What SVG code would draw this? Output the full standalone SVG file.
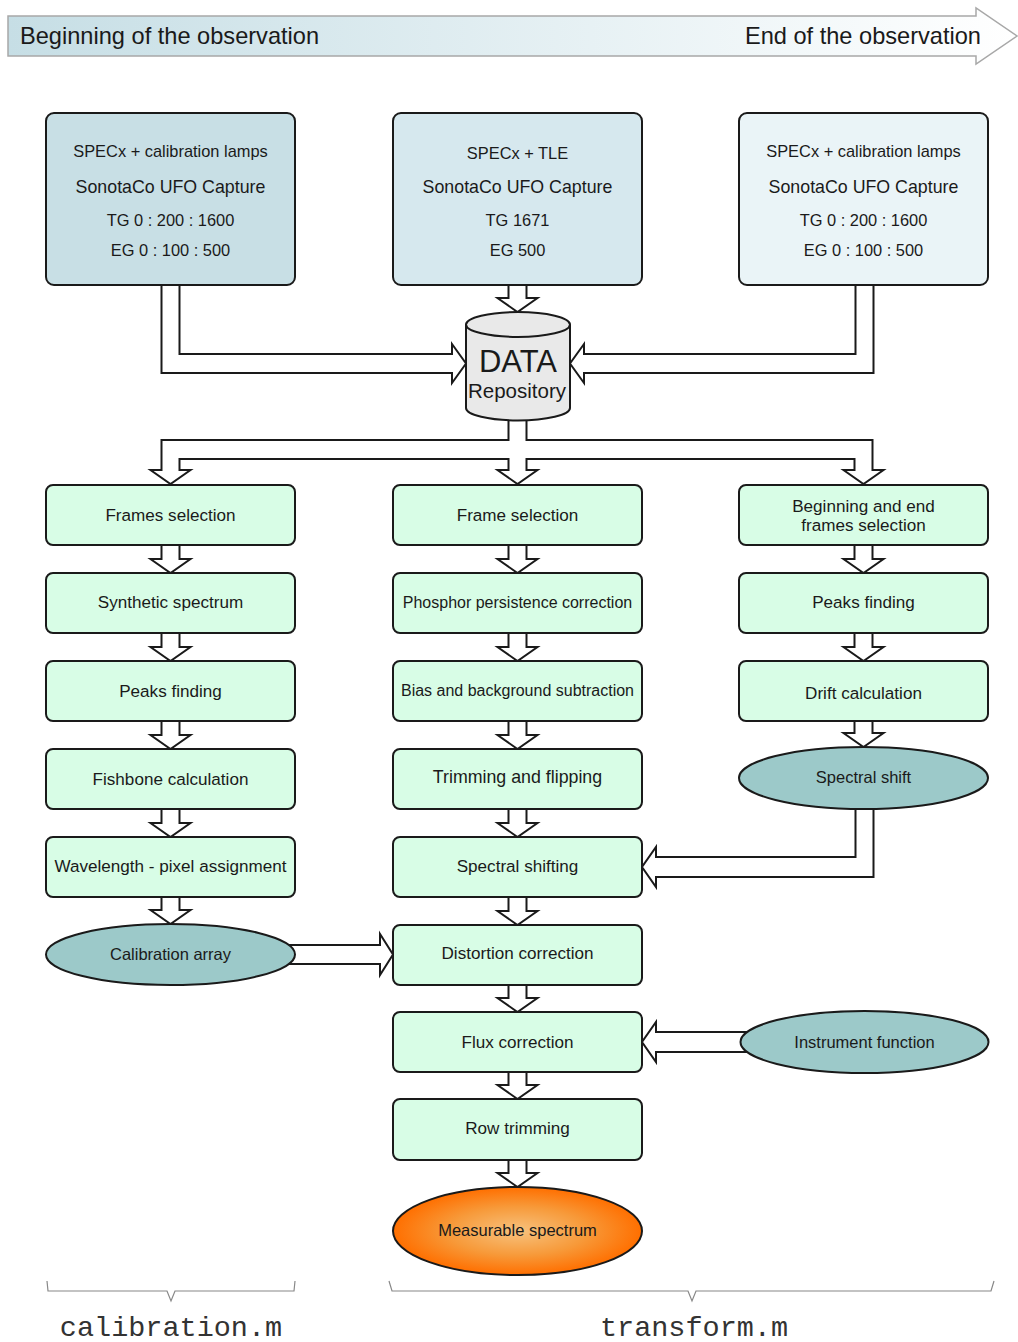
<svg xmlns="http://www.w3.org/2000/svg" width="1018" height="1342" viewBox="0 0 1018 1342">
<style>
text{font-family:"Liberation Sans",Arial,sans-serif;fill:#1a1a1a;text-anchor:middle}
.box{stroke:#1a1a1a;stroke-width:2}
.flow{fill:#d8fde6}
.ell{fill:#9cc9c9;stroke:#1a1a1a;stroke-width:2}
.conn path{fill:#fff;stroke:#1a1a1a;stroke-width:2;stroke-linejoin:miter}
.t16{font-size:16.4px}
.f{font-size:17.1px}
.t15{font-size:16px}
.e{font-size:16.5px}
.t17{font-size:17.8px}
.brace{fill:none;stroke:#888;stroke-width:1.2}
.mono{font-family:"Liberation Mono","Courier New",monospace;font-size:28.5px;fill:#333}
</style>
<defs>
<linearGradient id="ban" x1="0" y1="0" x2="1" y2="0">
<stop offset="0" stop-color="#c6dee5"/>
<stop offset="1" stop-color="#ffffff"/>
</linearGradient>
<radialGradient id="org" cx="0.5" cy="0.5" r="0.5">
<stop offset="0" stop-color="#f7c27e"/>
<stop offset="0.55" stop-color="#f79a3a"/>
<stop offset="1" stop-color="#ff6f00"/>
</radialGradient>
</defs>
<g id="timeline">
<path d="M8,16 H976 V8 L1017,36 L976,64 V56 H8 Z" fill="url(#ban)" stroke="#a8a8a8" stroke-width="1.5"/>
<text x="20" y="44" style="text-anchor:start;font-size:23.6px">Beginning of the observation</text>
<text x="981" y="44" style="text-anchor:end;font-size:23.6px">End of the observation</text>
</g>
<g id="connectors" class="conn">
<path d="M508.5,285 V298 H497.5 L517.5,312 L537.5,298 H526.5 V285"/>
<path d="M161.5,285 V373 H452 V383 L466,363.5 L452,344 V354 H179.5 V285"/>
<path d="M873.5,285 V373 H584 V383 L570,363.5 L584,344 V354 H855.5 V285"/>
<path d="M508.5,421 V440 H161.5 V470 H150.5 L170.5,484 L190.5,470 H179.5 V459 H508.5 V470 H497.5 L517.5,484 L537.5,470 H526.5 V459 H854.5 V470 H843.5 L863.5,484 L883.5,470 H872.5 V440 H526.5 V421"/>
<path d="M161.5,545 V559 H150.5 L170.5,573 L190.5,559 H179.5 V545"/>
<path d="M161.5,633 V647 H150.5 L170.5,661 L190.5,647 H179.5 V633"/>
<path d="M161.5,721 V735 H150.5 L170.5,749 L190.5,735 H179.5 V721"/>
<path d="M161.5,809 V823 H150.5 L170.5,837 L190.5,823 H179.5 V809"/>
<path d="M161.5,897 V910 H150.5 L170.5,924 L190.5,910 H179.5 V897"/>
<path d="M508.5,545 V559 H497.5 L517.5,573 L537.5,559 H526.5 V545"/>
<path d="M508.5,633 V647 H497.5 L517.5,661 L537.5,647 H526.5 V633"/>
<path d="M508.5,721 V735 H497.5 L517.5,749 L537.5,735 H526.5 V721"/>
<path d="M508.5,809 V823 H497.5 L517.5,837 L537.5,823 H526.5 V809"/>
<path d="M508.5,897 V911 H497.5 L517.5,925 L537.5,911 H526.5 V897"/>
<path d="M508.5,985 V998 H497.5 L517.5,1012 L537.5,998 H526.5 V985"/>
<path d="M508.5,1072 V1085 H497.5 L517.5,1099 L537.5,1085 H526.5 V1072"/>
<path d="M508.5,1160 V1173 H497.5 L517.5,1187 L537.5,1173 H526.5 V1160"/>
<path d="M854.5,545 V559 H843.5 L863.5,573 L883.5,559 H872.5 V545"/>
<path d="M854.5,633 V647 H843.5 L863.5,661 L883.5,647 H872.5 V633"/>
<path d="M854.5,721 V733 H843.5 L863.5,747 L883.5,733 H872.5 V721"/>
<path d="M855.5,800 V857 H656 V847 L642,867 L656,887 V877 H873.5 V800"/>
<path d="M280,945 H380 V934 L393,954.5 L380,975 V964 H280 Z"/>
<path d="M760,1032 H656 V1022 L642,1042 L656,1062 V1052 H760 Z"/>
</g>
<g id="src-left">
<rect class="box" x="46" y="113" width="249" height="172" rx="8" fill="#c8dfe5"/>
<text class="t16" x="170.5" y="157">SPECx + calibration lamps</text>
<text class="t17" x="170.5" y="193">SonotaCo UFO Capture</text>
<text class="t16" x="170.5" y="226">TG 0 : 200 : 1600</text>
<text class="t16" x="170.5" y="256">EG 0 : 100 : 500</text>
</g>
<g id="src-mid">
<rect class="box" x="393" y="113" width="249" height="172" rx="8" fill="#d6e8ee"/>
<text class="t16" x="517.5" y="159">SPECx + TLE</text>
<text class="t17" x="517.5" y="193">SonotaCo UFO Capture</text>
<text class="t16" x="517.5" y="226">TG 1671</text>
<text class="t16" x="517.5" y="256">EG 500</text>
</g>
<g id="src-right">
<rect class="box" x="739" y="113" width="249" height="172" rx="8" fill="#eaf4f7"/>
<text class="t16" x="863.5" y="157">SPECx + calibration lamps</text>
<text class="t17" x="863.5" y="193">SonotaCo UFO Capture</text>
<text class="t16" x="863.5" y="226">TG 0 : 200 : 1600</text>
<text class="t16" x="863.5" y="256">EG 0 : 100 : 500</text>
</g>
<g id="data-repository">
<path d="M466,324.5 V408 A52,12.5 0 0 0 570,408 V324.5" fill="#e9e9e9" stroke="#1a1a1a" stroke-width="2"/>
<ellipse cx="518" cy="324.5" rx="52" ry="12.5" fill="#e9e9e9" stroke="#1a1a1a" stroke-width="2"/>
<text x="518" y="372" style="font-size:31px">DATA</text>
<text x="517" y="398" style="font-size:20.5px">Repository</text>
</g>
<g id="l1"><rect class="box flow" x="46" y="485" width="249" height="60" rx="7"/><text class="f" x="170.5" y="521">Frames selection</text></g>
<g id="l2"><rect class="box flow" x="46" y="573" width="249" height="60" rx="7"/><text class="f" x="170.5" y="608">Synthetic spectrum</text></g>
<g id="l3"><rect class="box flow" x="46" y="661" width="249" height="60" rx="7"/><text class="f" x="170.5" y="697">Peaks finding</text></g>
<g id="l4"><rect class="box flow" x="46" y="749" width="249" height="60" rx="7"/><text class="f" x="170.5" y="785">Fishbone calculation</text></g>
<g id="l5"><rect class="box flow" x="46" y="837" width="249" height="60" rx="7"/><text class="f" x="170.5" y="872">Wavelength - pixel assignment</text></g>
<g id="l6"><ellipse class="ell" cx="170.5" cy="954.5" rx="124.5" ry="30.5"/><text class="e" x="170.5" y="960">Calibration array</text></g>
<g id="m1"><rect class="box flow" x="393" y="485" width="249" height="60" rx="7"/><text class="f" x="517.5" y="521">Frame selection</text></g>
<g id="m2"><rect class="box flow" x="393" y="573" width="249" height="60" rx="7"/><text class="t15" x="517.5" y="608">Phosphor persistence correction</text></g>
<g id="m3"><rect class="box flow" x="393" y="661" width="249" height="60" rx="7"/><text class="t15" x="517.5" y="696">Bias and background subtraction</text></g>
<g id="m4"><rect class="box flow" x="393" y="749" width="249" height="60" rx="7"/><text x="517.5" y="783" style="font-size:17.8px">Trimming and flipping</text></g>
<g id="m5"><rect class="box flow" x="393" y="837" width="249" height="60" rx="7"/><text class="f" x="517.5" y="872">Spectral shifting</text></g>
<g id="m6"><rect class="box flow" x="393" y="925" width="249" height="60" rx="7"/><text class="f" x="517.5" y="959">Distortion correction</text></g>
<g id="m7"><rect class="box flow" x="393" y="1012" width="249" height="60" rx="7"/><text class="f" x="517.5" y="1048">Flux correction</text></g>
<g id="m8"><rect class="box flow" x="393" y="1099" width="249" height="61" rx="7"/><text class="f" x="517.5" y="1134">Row trimming</text></g>
<g id="m9"><ellipse cx="517.5" cy="1231" rx="124.5" ry="44" fill="url(#org)" stroke="#1a1a1a" stroke-width="2"/><text class="e" x="517.5" y="1236">Measurable spectrum</text></g>
<g id="r1"><rect class="box flow" x="739" y="485" width="249" height="60" rx="7"/><text class="f" x="863.5" y="512">Beginning and end</text><text class="f" x="863.5" y="531">frames selection</text></g>
<g id="r2"><rect class="box flow" x="739" y="573" width="249" height="60" rx="7"/><text class="f" x="863.5" y="608">Peaks finding</text></g>
<g id="r3"><rect class="box flow" x="739" y="661" width="249" height="60" rx="7"/><text class="f" x="863.5" y="699">Drift calculation</text></g>
<g id="r4"><ellipse class="ell" cx="863.5" cy="778" rx="124.5" ry="31"/><text class="e" x="863.5" y="783">Spectral shift</text></g>
<g id="r5"><ellipse class="ell" cx="864.5" cy="1042" rx="124" ry="31"/><text class="e" x="864.5" y="1048">Instrument function</text></g>
<g id="brace-calibration">
<path class="brace" d="M47,1281 L48,1291 H167 L171,1301 L175,1291 H294 L295,1281"/>
<text class="mono" x="171" y="1336">calibration.m</text>
</g>
<g id="brace-transform">
<path class="brace" d="M389,1281 L392,1291 H688 L692,1301 L696,1291 H991 L994,1281"/>
<text class="mono" x="694" y="1336">transform.m</text>
</g>
</svg>
